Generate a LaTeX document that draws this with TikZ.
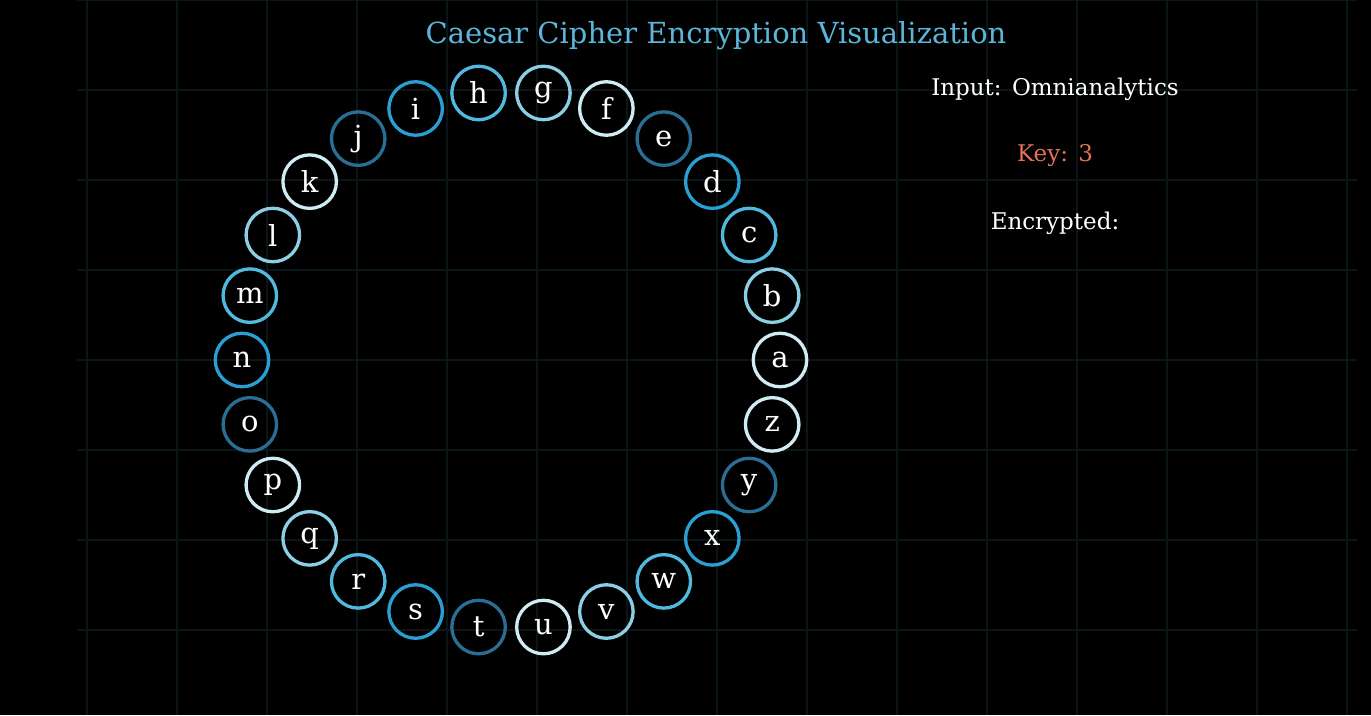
\documentclass[tikz,border=0pt]{standalone}
\usepackage{fontspec}
\setmainfont{DejaVu Serif}
\definecolor{bg}{RGB}{0,0,0}
\definecolor{gridc}{RGB}{10,21,23}
\definecolor{titlec}{RGB}{90,182,219}
\definecolor{keyc}{RGB}{231,112,90}
\definecolor{c0}{RGB}{208,236,243}
\definecolor{c1}{RGB}{140,206,228}
\definecolor{c2}{RGB}{82,185,222}
\definecolor{c3}{RGB}{42,160,210}
\definecolor{c4}{RGB}{42,110,150}
\tikzset{
  gridline/.style={draw=gridc, line width=1.3pt},
  letter/.style={circle, minimum size=53.5pt, inner sep=0pt, line width=3.3pt, text=white, font=\fontsize{29}{30}\selectfont},
  infotext/.style={font=\fontsize{23}{26}\selectfont, text=white},
}
\begin{document}
\begin{tikzpicture}[x=1pt,y=-1pt]
\fill[bg] (0,0) rectangle (1371,715);
\useasboundingbox (0,0) rectangle (1371,715);
\foreach \k in {0,...,14} {
  \draw[gridline] ({87+90*\k},0) -- ({87+90*\k},715);
}
\foreach \k in {0,...,7} {
  \draw[gridline] (77,{90*\k}) -- (1357,{90*\k});
}
\foreach \l [count=\i from 0] in {a,b,c,d,e,f,g,h,i,j,k,l,m,n,o,p,q,r,s,t,u,v,w,x,y,z} {
  \pgfmathtruncatemacro\m{mod(\i,5)}
  \node[letter, draw=c\m] (L\l) at ({511+269*cos(\i*360/26)},{360-269*sin(\i*360/26)}) {\l};
}
\node[font=\fontsize{29}{32}\selectfont, text=titlec] (title) at (716,36) {Caesar Cipher Encryption Visualization};
\node[infotext] (input) at (1055,89) {Input:\hspace{0.45em}Omnianalytics};
\node[infotext, text=keyc] (key) at (1055,156) {Key:\hspace{0.45em}3};
\node[infotext] (enc) at (1055,223) {Encrypted:};
\end{tikzpicture}
\end{document}
